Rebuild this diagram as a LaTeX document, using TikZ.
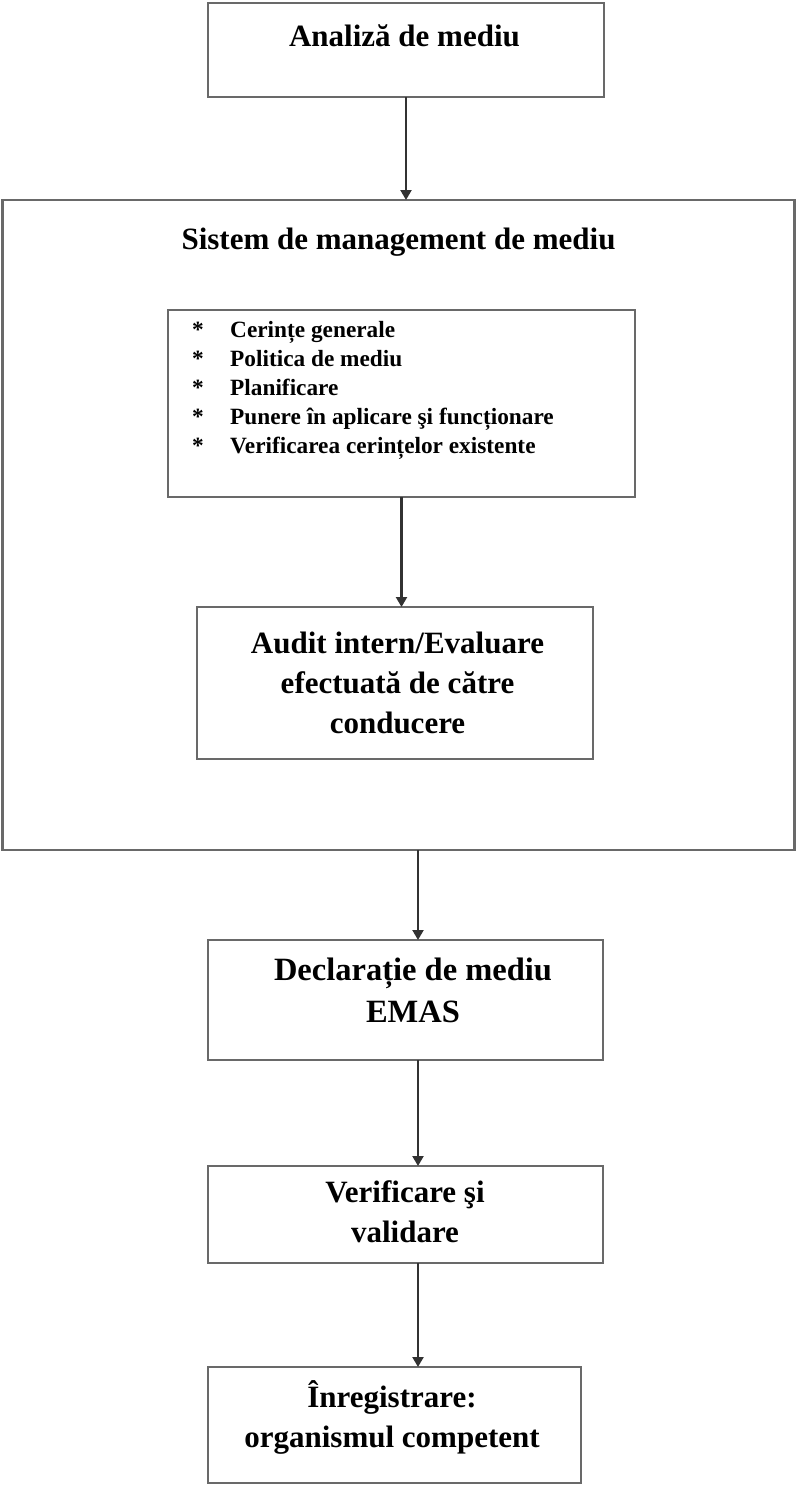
\documentclass[tikz,border=0pt]{standalone}
\usepackage{fontspec}
\setmainfont{Liberation Serif}
\usetikzlibrary{arrows.meta}
\definecolor{boxline}{RGB}{105,105,105}
\definecolor{arrowline}{RGB}{50,50,50}
\begin{document}
\begin{tikzpicture}[x=1pt,y=-1pt,
  box/.style={draw=boxline, line width=2.6pt, fill=white, inner sep=0pt, outer sep=0pt},
  bigtext/.style={font=\bfseries\fontsize{31}{40}\selectfont, align=center, inner sep=0pt},
  listtext/.style={font=\bfseries\fontsize{23.3}{28}\selectfont, inner sep=0pt, anchor=base west},
  star/.style={font=\bfseries\fontsize{23.3}{28}\selectfont, inner sep=0pt, anchor=base},
  conn/.style={draw=arrowline, line width=2.2pt, -{Triangle[width=11pt,length=10pt]}}]
\useasboundingbox (0,0) rectangle (798,1485);

% boxes
\node[box, minimum width=396pt, minimum height=94pt] (b1) at (406,50) {};
\node[box, minimum width=792pt, minimum height=650pt] (sys) at (398.5,525) {};
\node[box, minimum width=467pt, minimum height=187pt] (inner) at (401.5,403.5) {};
\node[box, minimum width=396pt, minimum height=152pt] (audit) at (395,683) {};
\node[box, minimum width=395pt, minimum height=120pt] (decl) at (405.5,1000) {};
\node[box, minimum width=395pt, minimum height=97pt] (verif) at (405.5,1214.5) {};
\node[box, minimum width=373pt, minimum height=116pt] (reg) at (394.5,1425) {};

% texts
\node[bigtext, anchor=base] (t1) at (404.5,47) {Analiză de mediu};
\node[bigtext, anchor=base] (tsys) at (398.5,249) {Sistem de management de mediu};
\foreach \i/\y/\t in {1/337/{Cerințe generale},2/366/{Politica de mediu},3/395/{Planificare},4/424/{Punere în aplicare şi funcționare},5/453/{Verificarea cerințelor existente}}{
  \node[star] (s\i) at (198,\y) {*};
  \node[listtext] (l\i) at (230,\y) {\t};
}
\node[bigtext] (taudit) at (397.5,682.5) {Audit intern/Evaluare\\efectuată de către\\conducere};
\node[bigtext, font=\bfseries\fontsize{32.5}{42}\selectfont] (tdecl) at (413,990.5) {Declarație de mediu\\EMAS};
\node[bigtext] (tverif) at (405,1212) {Verificare şi\\validare};
\node[bigtext] (treg) at (392,1417) {Înregistrare:\\organismul competent};

% connectors
\coordinate (ax) at (418,0);
\draw[conn] (b1.south) -- (b1.south |- sys.north);
\draw[conn] (inner.south) -- (inner.south |- audit.north);
\draw[conn] (sys.south -| ax) -- (decl.north -| ax);
\draw[conn] (decl.south -| ax) -- (verif.north -| ax);
\draw[conn] (verif.south -| ax) -- (reg.north -| ax);
\end{tikzpicture}
\end{document}
